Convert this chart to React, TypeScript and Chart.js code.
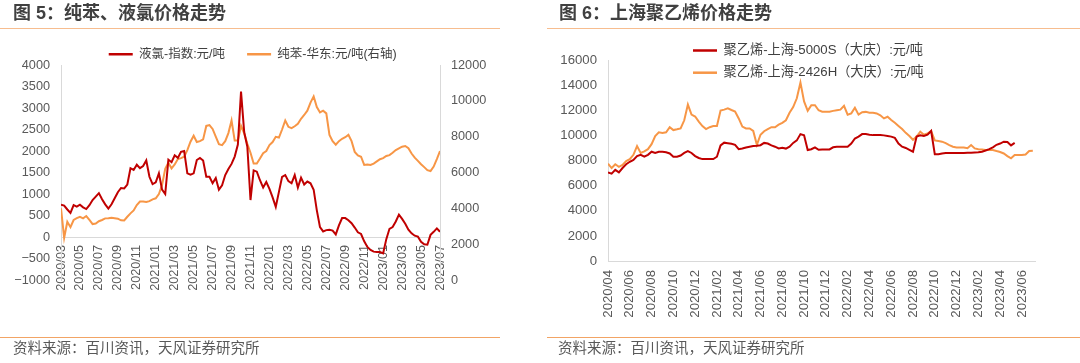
import React, { useEffect, useRef } from 'react';
import { Chart, registerables } from 'chart.js';

Chart.register(...registerables);

const FONT = "'Liberation Sans', 'Noto Sans CJK SC', sans-serif";
const RED = '#C00000';
const ORANGE = '#F79646';
const AXIS = '#D9D9D9';
const TICK = '#595959';

// ---------- Figure 5 ----------
const fig5Title = '图 5：纯苯、液氯价格走势';
const fig5Step = 1 / 3; // months between readings, starting 2020/03
const fig5Ticks = ['2020/03', '2020/05', '2020/07', '2020/09', '2020/11', '2021/01', '2021/03', '2021/05', '2021/07', '2021/09', '2021/11', '2022/01', '2022/03', '2022/05', '2022/07', '2022/09', '2022/11', '2023/01', '2023/03', '2023/05', '2023/07'];
const chlorineLabel = '液氯-指数:元/吨';
const chlorine = [
  750, 730, 640, 560, 740, 705, 750, 690, 650, 740,
  860, 940, 1020, 880, 760, 660, 760, 900, 1040, 1140,
  1130, 1220, 1600, 1560, 1680, 1600, 1650, 1780, 1400, 1230,
  1270, 1480, 1100, 1000, 1800, 1740, 1900, 1840, 1980, 2000,
  1480, 1450, 1480, 1790, 1840, 1780, 1400, 1400, 1250, 1370,
  1100, 1200, 1440, 1580, 1700, 1870, 2150, 3380, 2440, 2100,
  860, 1550, 1520, 1320, 1150, 1280, 1120, 920, 700, 1050,
  1400, 1440, 1300, 1250, 1440, 1150, 1380, 1220, 1290, 1250,
  1100, 620, 230, 130, 160, 170, 150, 60, 270, 440,
  440, 390, 320, 220, 110, 70, -100, -230, -300, -340,
  -350, -350, -380, -50, 190, 230, 360, 520, 420, 310,
  170, 85, 30, 8, -110, -170, -180, 50, 120, 200,
  120,
];
const benzeneLabel = '纯苯-华东:元/吨(右轴)';
const benzene = [
  4000, 2350, 3250, 2950, 3350, 3450, 3530, 3440, 3570, 3350,
  3120, 3150, 3280, 3350, 3440, 3450, 3470, 3450, 3420, 3330,
  3320, 3530, 3720, 3880, 4180, 4380, 4380, 4350, 4400, 4500,
  4560, 4800, 5300, 6200, 6550, 6230, 6450, 6750, 6800, 6880,
  7250, 7720, 8050, 7700, 7750, 7850, 8600, 8650, 8430, 8000,
  7580, 7530, 7750, 8200, 8900, 7780, 7780, 8600, 8180, 7600,
  7100, 6500, 6500, 6780, 7080, 7200, 7530, 7700, 7990, 7950,
  8400, 8900, 8550, 8480, 8580, 8720, 9000, 9210, 9450, 9900,
  10250, 9650, 9350, 9450, 9300, 8100, 7750, 7550, 7750, 7880,
  7970, 8100, 7750, 7150, 6950, 6880, 6420, 6450, 6420, 6500,
  6620, 6740, 6800, 6920, 6970, 7100, 7250, 7350, 7440, 7480,
  7350, 7060, 6830, 6650, 6460, 6300, 6130, 6080, 6330, 6750,
  7200,
];

// ---------- Figure 6 ----------
const fig6Title = '图 6：上海聚乙烯价格走势';
const fig6Step = 1 / 3; // months between readings, starting 2020/04
const fig6Ticks = ['2020/04', '2020/06', '2020/08', '2020/10', '2020/12', '2021/02', '2021/04', '2021/06', '2021/08', '2021/10', '2021/12', '2022/02', '2022/04', '2022/06', '2022/08', '2022/10', '2022/12', '2023/02', '2023/04', '2023/06'];
const pe5000sLabel = '聚乙烯-上海-5000S（大庆）:元/吨';
const pe5000s = [
  7050, 6950, 7250, 7050, 7400, 7700, 7900, 8050, 8350, 8450,
  8300, 8450, 8700, 8600, 8700, 8700, 8650, 8560, 8300, 8300,
  8400, 8600, 8750, 8600, 8350, 8200, 8110, 8110, 8110, 8110,
  8300, 9200, 9420, 9380, 9330, 9250, 8900, 8950, 9030, 9100,
  9150, 9180, 9220, 9400, 9350, 9200, 9100, 8960, 9020, 8950,
  9100, 9400, 9600, 10100, 10000, 8830, 8900, 9050, 8850, 8880,
  8880, 8880, 9050, 9100, 9100, 9100, 9100, 9350, 9750, 9900,
  10100, 10100, 10050, 10020, 10020, 10020, 10000, 9950, 9900, 9800,
  9350, 9100, 9000, 8850, 8700, 9900, 10000, 9950, 10050, 10350,
  8500, 8500, 8560, 8600, 8600, 8600, 8600, 8600, 8600, 8620,
  8620, 8640, 8650, 8700, 8800, 8900, 9050, 9250, 9350, 9500,
  9480, 9200, 9400, null, null, null, null, null,
];
const pe2426hLabel = '聚乙烯-上海-2426H（大庆）:元/吨';
const pe2426h = [
  7750, 7400, 7700, 7500, 7650, 7950, 8100, 8450, 9150, 8600,
  8720, 8900, 9300, 9950, 10250, 10200, 10250, 10650, 10420, 10480,
  10550, 11200, 12450, 11650, 11500, 11100, 10740, 10500, 10650, 10740,
  10740, 11980, 12050, 12150, 12020, 11900, 11350, 10700, 10550, 10550,
  10350, 9250, 10050, 10330, 10500, 10650, 10650, 10850, 11000, 11200,
  11800, 12250, 12950, 14200, 12700, 11950, 12400, 12400, 12000, 11880,
  11880, 11880, 11950, 12000, 12050, 12350, 11650, 11750, 12200, 11650,
  11850, 11870, 11800, 11800, 11750, 11600, 11350, 11480, 11220, 11000,
  10750, 10500, 10200, 9950, 9650, 9900, 10300, 10050, 10150, 10350,
  9600, 9550, 9500, 9380, 9230, 9100, 9040, 9040, 9040, 8980,
  9230, 8960, 8900, 8870, 8830, 8830, 8830, 8750, 8680, 8560,
  8350, 8170, 8430, 8430, 8430, 8480, 8750, 8770,
];

const sourceText = '资料来源：百川资讯，天风证券研究所';

// ---------- helpers ----------
const toPoints = (values: (number | null)[], step: number) =>
  values.map((y, i) => ({ x: i * step, y }));

const fmtNum = (v: number) => (v < 0 ? '\u2212' + Math.abs(v) : String(v));

// Moves the library's legend box after layout (legend drawn by Chart.js itself).
const legendShift = {
  id: 'legendShift',
  afterLayout(chart: any, _args: any, opts: any) {
    const lg = chart.legend;
    if (!lg || !opts) return;
    const w = lg.right - lg.left;
    const h = lg.bottom - lg.top;
    const left = opts.left != null ? opts.left : lg.left + (opts.dx || 0);
    const top = opts.top != null ? opts.top : lg.top + (opts.dy || 0);
    lg.left = left;
    lg.right = left + w;
    lg.top = top;
    lg.bottom = top + h;
  },
};

const lineLegendLabels = (chart: any) =>
  (Chart.defaults as any).plugins.legend.labels.generateLabels(chart).map((l: any) => ({
    ...l,
    lineWidth: 0,
    fillStyle: l.strokeStyle,
  }));

const lineDataset = (label: string, values: (number | null)[], step: number, color: string, yAxisID: string) => ({
  label,
  data: toPoints(values, step),
  borderColor: color,
  backgroundColor: color,
  borderWidth: 2,
  pointRadius: 0,
  tension: 0,
  yAxisID,
});

const hiddenGrid = { display: false, drawTicks: false };
const axisBorder = { display: true, color: AXIS, width: 1 };

function buildFig5(): any {
  const tickFont = { family: FONT, size: 12.7 };
  return {
    type: 'line',
    data: {
      datasets: [
        lineDataset(chlorineLabel, chlorine, fig5Step, RED, 'y'),
        lineDataset(benzeneLabel, benzene, fig5Step, ORANGE, 'y1'),
      ],
    },
    options: {
      responsive: false,
      animation: false,
      events: [],
      layout: { padding: { left: 0, right: 40, top: 20.5, bottom: 83 } },
      plugins: {
        tooltip: { enabled: false },
        legend: {
          position: 'top',
          align: 'center',
          labels: {
            boxWidth: 24,
            boxHeight: 2.5,
            padding: 22,
            color: '#404040',
            font: { family: FONT, size: 12.5 },
            generateLabels: lineLegendLabels,
          },
        },
        legendShift: { dx: 2.75, dy: 5.5 },
      },
      scales: {
        x: {
          type: 'linear',
          position: { y: 0 },
          min: 0,
          max: 40,
          grid: hiddenGrid,
          border: axisBorder,
          ticks: {
            stepSize: 2,
            includeBounds: false,
            autoSkip: false,
            minRotation: 90,
            maxRotation: 90,
            padding: 8,
            color: TICK,
            font: tickFont,
            callback: (v: number) => fig5Ticks[Math.round(v / 2)] ?? '',
          },
        },
        y: {
          type: 'linear',
          position: 'left',
          min: -1000,
          max: 4000,
          afterFit: (s: any) => { s.width = 61; },
          grid: hiddenGrid,
          border: axisBorder,
          ticks: { stepSize: 500, padding: 11, color: TICK, font: tickFont, callback: (v: number) => fmtNum(v) },
        },
        y1: {
          type: 'linear',
          position: 'right',
          min: 0,
          max: 12000,
          afterFit: (s: any) => { s.width = 60; },
          grid: hiddenGrid,
          border: axisBorder,
          ticks: { stepSize: 2000, padding: 11, color: TICK, font: tickFont, callback: (v: number) => fmtNum(v) },
        },
      },
    },
    plugins: [legendShift],
  };
}

function buildFig6(): any {
  const tickFont = { family: FONT, size: 13.2 };
  return {
    type: 'line',
    data: {
      datasets: [
        lineDataset(pe5000sLabel, pe5000s, fig6Step, RED, 'y'),
        lineDataset(pe2426hLabel, pe2426h, fig6Step, ORANGE, 'y'),
      ],
    },
    options: {
      responsive: false,
      animation: false,
      events: [],
      layout: { padding: { left: 0, right: 45, top: 60, bottom: 42 } },
      plugins: {
        tooltip: { enabled: false },
        legend: {
          position: 'chartArea',
          align: 'start',
          labels: {
            boxWidth: 24,
            boxHeight: 2.5,
            padding: 9,
            color: '#404040',
            font: { family: FONT, size: 13.2 },
            generateLabels: lineLegendLabels,
          },
        },
        legendShift: { left: 144, top: 34.9 },
      },
      scales: {
        x: {
          type: 'linear',
          position: 'bottom',
          min: 0,
          max: 39.2,
          afterFit: (s: any) => { s.height = 60; },
          grid: hiddenGrid,
          border: axisBorder,
          ticks: {
            stepSize: 2,
            includeBounds: false,
            autoSkip: false,
            minRotation: 90,
            maxRotation: 90,
            padding: 9,
            color: TICK,
            font: tickFont,
            callback: (v: number) => fig6Ticks[Math.round(v / 2)] ?? '',
          },
        },
        y: {
          type: 'linear',
          position: 'left',
          min: 0,
          max: 16000,
          afterFit: (s: any) => { s.width = 68; },
          grid: hiddenGrid,
          border: axisBorder,
          ticks: { stepSize: 2000, padding: 11, color: TICK, font: tickFont, callback: (v: number) => fmtNum(v) },
        },
      },
    },
    plugins: [legendShift],
  };
}

function ChartCanvas({ build, left }: { build: () => any; left: number }) {
  const ref = useRef<HTMLCanvasElement | null>(null);
  useEffect(() => {
    if (!ref.current) return;
    const chart = new Chart(ref.current, build());
    return () => chart.destroy();
  }, []);
  return (
    <canvas
      ref={ref}
      width={540}
      height={363}
      style={{ position: 'absolute', left, top: 0, width: 540, height: 363 }}
    />
  );
}

const titleStyle = (left: number): React.CSSProperties => ({
  position: 'absolute',
  left,
  top: 4,
  font: `bold 18px ${FONT}`,
  lineHeight: '18px',
  color: '#404040',
  whiteSpace: 'nowrap',
});

const footStyle = (left: number): React.CSSProperties => ({
  position: 'absolute',
  left,
  top: 341,
  font: `14.5px ${FONT}`,
  lineHeight: '14.5px',
  color: '#595959',
  whiteSpace: 'nowrap',
});

const rule = (left: number, top: number, width: number, color: string): React.CSSProperties => ({
  position: 'absolute',
  left,
  top,
  width,
  height: 1.5,
  background: color,
});

export default function App() {
  return (
    <div style={{ position: 'fixed', left: 0, top: 0, width: 1080, height: 363, background: '#fff', overflow: 'hidden' }}>
      <ChartCanvas build={buildFig5} left={0} />
      <ChartCanvas build={buildFig6} left={540} />
      <div style={titleStyle(13)}>{fig5Title}</div>
      <div style={titleStyle(559)}>{fig6Title}</div>
      <div style={rule(0, 27.5, 500, '#F7BD8F')} />
      <div style={rule(547, 27.5, 533, '#F7BD8F')} />
      <div style={rule(0, 336.7, 500, '#F2A465')} />
      <div style={rule(547, 336.7, 533, '#F2A465')} />
      <div style={footStyle(13)}>{sourceText}</div>
      <div style={footStyle(558)}>{sourceText}</div>
    </div>
  );
}
